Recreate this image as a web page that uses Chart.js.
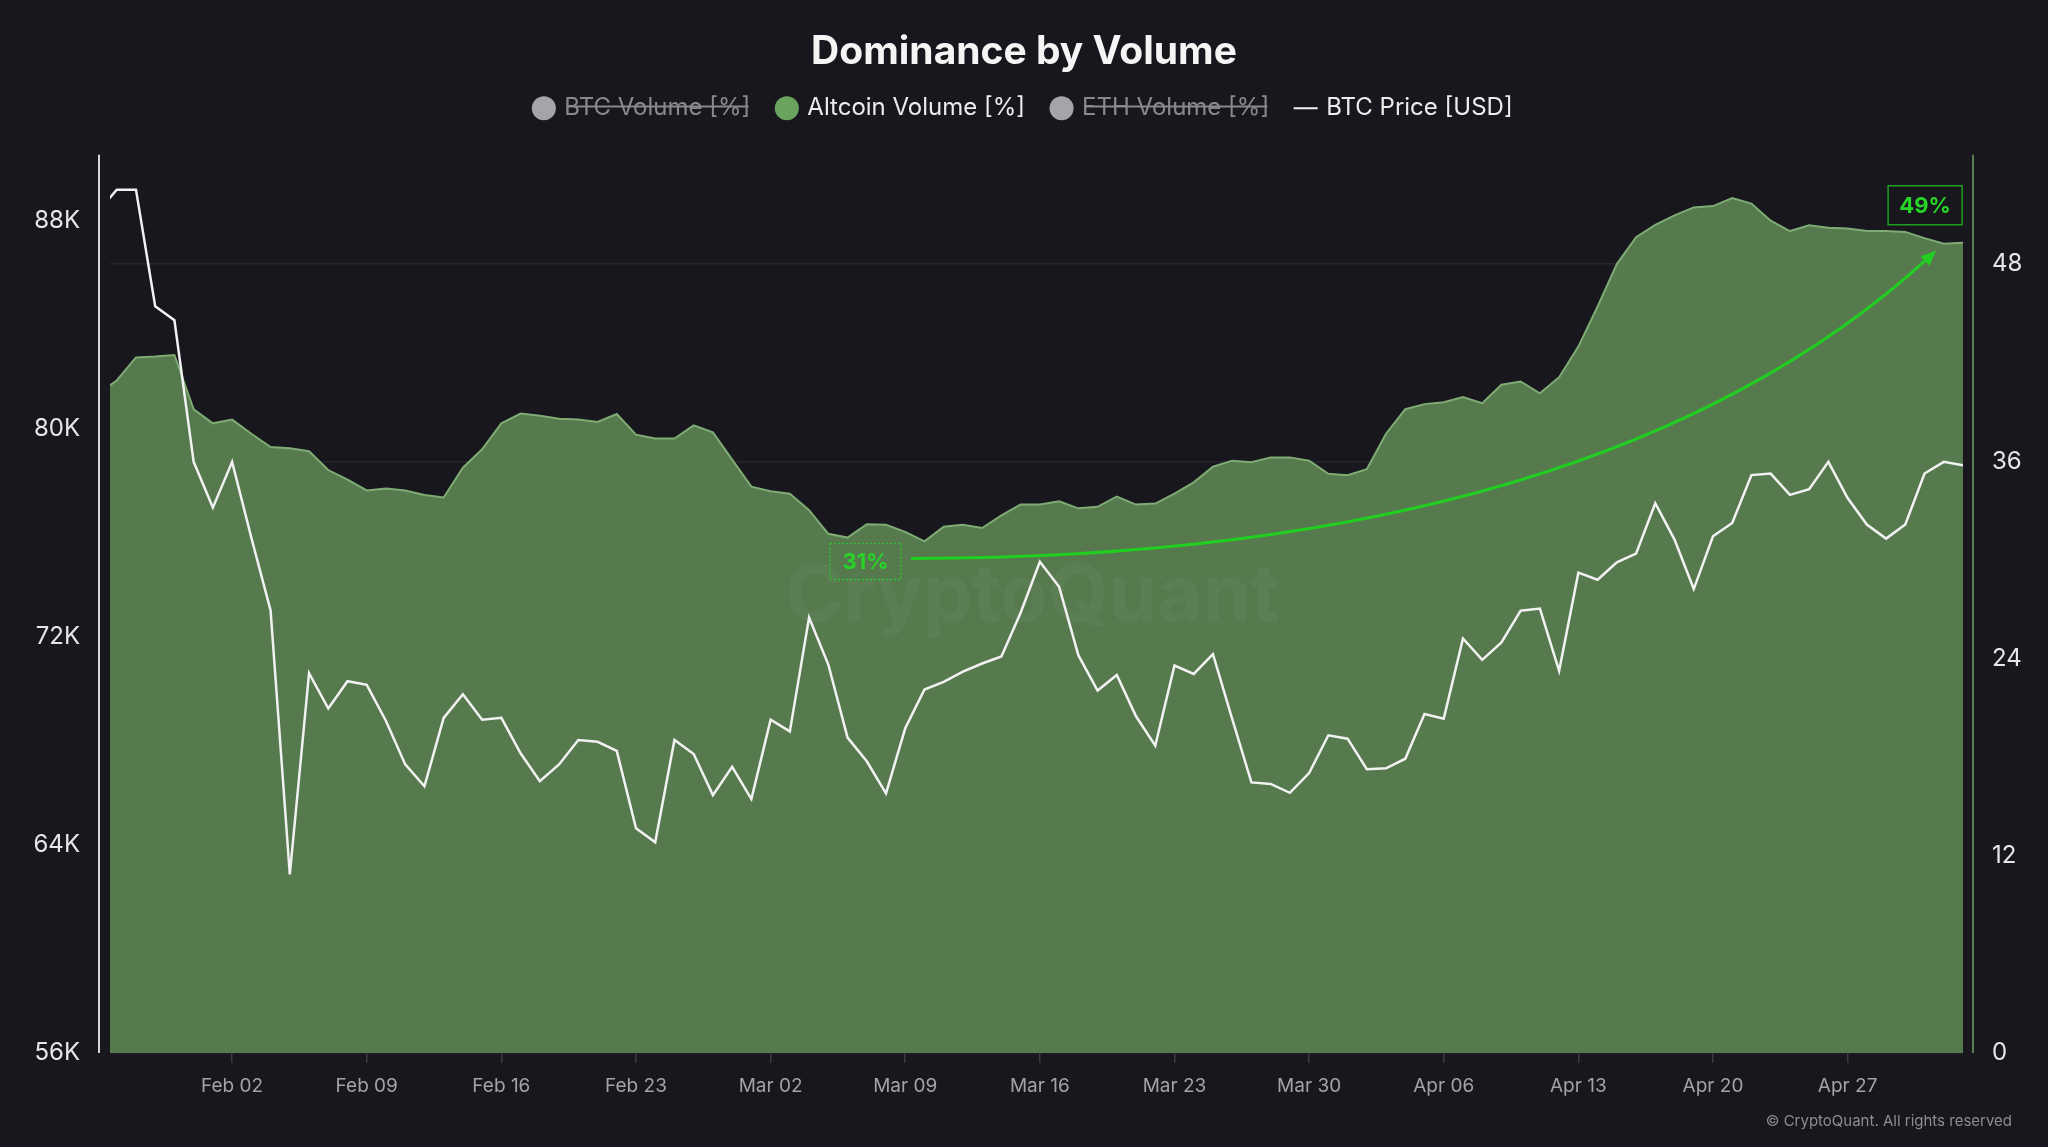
<!DOCTYPE html>
<html>
<head>
<meta charset="utf-8">
<title>Dominance by Volume</title>
<script src="https://cdn.jsdelivr.net/npm/chart.js@4.4.1/dist/chart.umd.min.js"></script>
<style>
  html, body { margin: 0; padding: 0; background: #17171d; }
  #wrap { width: 2048px; height: 1147px; position: relative; }
</style>
</head>
<body>
<div id="wrap"><canvas id="chart"></canvas></div>
<script>
// ---------------- DATA ----------------
const firstDay = { year: 2026, month: 0, day: 26 };   // Jan 26 (first, partly clipped point)

const altcoinVolume = [
  40.1, 40.92, 42.32, 42.38, 42.47, 39.17, 38.31, 38.54, 37.68, 36.87,
  36.79, 36.61, 35.47, 34.89, 34.23, 34.35, 34.23, 33.95, 33.80, 35.61,
  36.73, 38.31, 38.91, 38.77, 38.59, 38.55, 38.40, 38.88, 37.62, 37.39,
  37.39, 38.19, 37.76, 36.10, 34.46, 34.18, 34.03, 33.03, 31.59, 31.36,
  32.17, 32.14, 31.71, 31.13, 32.02, 32.14, 31.94, 32.71, 33.37, 33.37,
  33.57, 33.14, 33.23, 33.86, 33.37, 33.43, 34.03, 34.72, 35.67, 36.04,
  35.95, 36.24, 36.24, 36.04, 35.24, 35.15, 35.52, 37.68, 39.17, 39.48,
  39.60, 39.91, 39.54, 40.66, 40.86, 40.14, 41.12, 42.98, 45.42, 48.00,
  49.64, 50.39, 50.96, 51.45, 51.53, 52.02, 51.68, 50.64, 50.01, 50.36,
  50.21, 50.16, 50.01, 50.01, 49.96, 49.58, 49.24, 49.30
];

const btcPrice = [
  88300, 89180, 89180, 84700, 84160, 78720, 76960, 78720, 75800, 73010,
  62860, 70600, 69240, 70290, 70150, 68760, 67090, 66250, 68880, 69790,
  68810, 68880, 67520, 66450, 67090, 68030, 67960, 67610, 64640, 64100,
  68030, 67490, 65910, 67000, 65760, 68810, 68360, 72740, 70930, 68120,
  67210, 65980, 68480, 69970, 70260, 70660, 70970, 71240, 72920, 74880,
  73920, 71290, 69930, 70530, 68940, 67810, 70890, 70570, 71330, 68840,
  66400, 66340, 66000, 66760, 68210, 68080, 66910, 66940, 67310, 69030,
  68850, 71930, 71110, 71780, 73000, 73080, 70690, 74460, 74190, 74860,
  75190, 77130, 75730, 73830, 75860, 76370, 78210, 78270, 77450, 77670,
  78720, 77330, 76310, 75770, 76310, 78270, 78720, 78590
];

// hidden series (shown struck through in the legend)
const btcVolume = [];
const ethVolume = [];

const xTickLabels = ['Feb 02', 'Feb 09', 'Feb 16', 'Feb 23', 'Mar 02', 'Mar 09',
                     'Mar 16', 'Mar 23', 'Mar 30', 'Apr 06', 'Apr 13', 'Apr 20', 'Apr 27'];
const priceTicks = [56000, 64000, 72000, 80000, 88000];
const volumeTicks = [0, 12, 24, 36, 48];

// annotations (in data units: day index, altcoin %)
const callouts = [
  { text: '31%', x: 39.94, y: 29.9, dashed: true },
  { text: '49%', x: 95.03, y: 51.58, dashed: false }
];
const trendArrow = { from: [42.36, 30.09], via: [78.2, 30.09], to: [95.6, 48.81] };

// ---------------- HELPERS ----------------
const MONTHS = ['Jan','Feb','Mar','Apr','May','Jun','Jul','Aug','Sep','Oct','Nov','Dec'];
const dates = btcPrice.map((_, i) => {
  const d = new Date(Date.UTC(firstDay.year, firstDay.month, firstDay.day + i));
  return MONTHS[d.getUTCMonth()] + ' ' + String(d.getUTCDate()).padStart(2, '0');
});
const tickIndex = xTickLabels.map(l => dates.indexOf(l));
const toXY = arr => arr.map((v, i) => ({ x: i, y: v }));

const FONT = 'Inter';
const CHART_TOP = 154, TITLE_H = 67.4;

// ---------------- PLUGINS ----------------
const legendHeightFix = {
  id: 'legendHeightFix',
  beforeLayout(chart) {
    const lg = chart.legend;
    if (lg && !lg._hfix) {
      const orig = lg.fit.bind(lg);
      lg.fit = function () { orig(); this.height = CHART_TOP - TITLE_H; };
      lg._hfix = true;
    }
  }
};

const decor = {
  id: 'decor',
  beforeDraw(chart) {
    const { ctx } = chart;
    ctx.save();
    ctx.fillStyle = '#17171d';
    ctx.fillRect(0, 0, chart.width, chart.height);
    ctx.restore();
  },
  afterDatasetsDraw(chart) {
    const { ctx, chartArea: ca, scales } = chart;
    const xs = scales.x, ys = scales.y1;

    // watermark
    ctx.save();
    ctx.font = 'bold 78px ' + FONT;
    ctx.fillStyle = 'rgba(255,255,255,0.035)';
    ctx.textAlign = 'center';
    ctx.textBaseline = 'middle';
    ctx.fillText('CryptoQuant', (ca.left + ca.right) / 2 - 4, 598);
    ctx.restore();

    // trend arrow
    const p0 = [xs.getPixelForValue(trendArrow.from[0]), ys.getPixelForValue(trendArrow.from[1])];
    const p1 = [xs.getPixelForValue(trendArrow.via[0]), ys.getPixelForValue(trendArrow.via[1])];
    const p2 = [xs.getPixelForValue(trendArrow.to[0]), ys.getPixelForValue(trendArrow.to[1])];
    let dx = p2[0] - p1[0], dy = p2[1] - p1[1];
    const len = Math.hypot(dx, dy); dx /= len; dy /= len;
    ctx.save();
    ctx.strokeStyle = '#21cf21';
    ctx.lineWidth = 3;
    ctx.lineCap = 'round';
    ctx.beginPath();
    ctx.moveTo(p0[0], p0[1]);
    ctx.quadraticCurveTo(p1[0], p1[1], p2[0] - dx * 8, p2[1] - dy * 8);
    ctx.stroke();
    const bx = p2[0] - dx * 15, by = p2[1] - dy * 15;
    ctx.fillStyle = '#21cf21';
    ctx.beginPath();
    ctx.moveTo(p2[0], p2[1]);
    ctx.lineTo(bx - dy * 6.5, by + dx * 6.5);
    ctx.lineTo(bx + dy * 6.5, by - dx * 6.5);
    ctx.closePath();
    ctx.fill();
    ctx.restore();

    // callout boxes
    callouts.forEach(c => {
      const cx = xs.getPixelForValue(c.x), cy = ys.getPixelForValue(c.y);
      const bw = c.dashed ? 71 : 74, bh = c.dashed ? 36 : 39;
      ctx.save();
      ctx.strokeStyle = c.dashed ? '#2fbf2f' : '#1f9e1f';
      ctx.lineWidth = 1.5;
      if (c.dashed) ctx.setLineDash([2, 2]);
      ctx.strokeRect(cx - bw / 2, cy - bh / 2, bw, bh);
      ctx.setLineDash([]);
      ctx.font = 'bold 22px ' + FONT;
      ctx.fillStyle = '#27d427';
      ctx.textAlign = 'center';
      ctx.textBaseline = 'middle';
      ctx.fillText(c.text, cx, cy + 1);
      ctx.restore();
    });

    // offset axis lines
    ctx.save();
    ctx.lineWidth = 2;
    ctx.strokeStyle = '#d6d6d6';
    ctx.beginPath();
    ctx.moveTo(ca.left - 11, ca.top);
    ctx.lineTo(ca.left - 11, ca.bottom);
    ctx.stroke();
    ctx.strokeStyle = '#5b7d55';
    ctx.beginPath();
    ctx.moveTo(ca.right + 10, ca.top);
    ctx.lineTo(ca.right + 10, ca.bottom);
    ctx.stroke();
    ctx.restore();
  },
  afterDraw(chart) {
    const { ctx } = chart;
    ctx.save();
    ctx.font = '15px ' + FONT;
    ctx.fillStyle = '#8c8c92';
    ctx.textAlign = 'right';
    ctx.textBaseline = 'middle';
    ctx.fillText('\u00A9 CryptoQuant. All rights reserved', 2012, 1121);
    ctx.restore();
  }
};

// ---------------- CHART ----------------
const legendStyle = [
  { point: 'circle', fill: '#a4a4aa', stroke: '#a4a4aa', lw: 0 },
  { point: 'circle', fill: '#6aa35e', stroke: '#6aa35e', lw: 0 },
  { point: 'circle', fill: '#a4a4aa', stroke: '#a4a4aa', lw: 0 },
  { point: 'line',   fill: '#f2f2f2', stroke: '#f2f2f2', lw: 2 }
];

new Chart(document.getElementById('chart'), {
  type: 'line',
  data: {
    datasets: [
      { label: 'BTC Volume [%]', data: toXY(btcVolume), hidden: true, yAxisID: 'y1',
        borderColor: '#a4a4aa', backgroundColor: '#a4a4aa', pointRadius: 0, order: 2 },
      { label: 'Altcoin Volume [%]', data: toXY(altcoinVolume), yAxisID: 'y1',
        fill: 'origin', backgroundColor: '#567a4e', borderColor: '#7fab74', borderWidth: 2,
        pointRadius: 0, tension: 0, order: 1 },
      { label: 'ETH Volume [%]', data: toXY(ethVolume), hidden: true, yAxisID: 'y1',
        borderColor: '#a4a4aa', backgroundColor: '#a4a4aa', pointRadius: 0, order: 2 },
      { label: 'BTC Price [USD]', data: toXY(btcPrice), yAxisID: 'y',
        fill: false, borderColor: '#f2f2f2', borderWidth: 2.5, pointRadius: 0, tension: 0, order: 0 }
    ]
  },
  options: {
    responsive: true,
    maintainAspectRatio: false,
    devicePixelRatio: 1,
    animation: false,
    layout: { padding: 0 },
    interaction: { mode: 'index', intersect: false },
    plugins: {
      tooltip: { enabled: false },
      title: {
        display: true,
        text: 'Dominance by Volume',
        color: '#f5f5f5',
        font: { family: FONT, size: 39, weight: 'bold', lineHeight: 0.8 },
        padding: { top: 37, bottom: 0 }
      },
      legend: {
        position: 'top',
        labels: {
          usePointStyle: true,
          boxWidth: 17,
          boxHeight: 17,
          padding: 28,
          color: '#ececec',
          font: { family: FONT, size: 24 },
          generateLabels(chart) {
            return chart.data.datasets.map((ds, i) => {
              const vis = chart.isDatasetVisible(i);
              const st = legendStyle[i];
              return {
                text: ds.label,
                fillStyle: st.fill,
                strokeStyle: st.stroke,
                lineWidth: st.lw,
                pointStyle: st.point,
                hidden: !vis,
                fontColor: vis ? '#ececec' : '#88888e',
                datasetIndex: i
              };
            });
          }
        }
      }
    },
    scales: {
      x: {
        type: 'linear',
        min: 0.65,
        max: dates.length - 1,
        afterBuildTicks: s => { s.ticks = tickIndex.map(v => ({ value: v })); },
        afterFit: s => { s.height = 94; },
        ticks: {
          callback: v => dates[v],
          color: '#a2a2a8',
          font: { family: FONT, size: 19 },
          padding: 12,
          maxRotation: 0,
          autoSkip: false
        },
        grid: { drawOnChartArea: false, drawTicks: true, tickLength: 10, color: '#3a3a42', lineWidth: 1.5 },
        border: { display: false }
      },
      y: {
        position: 'left',
        min: 56000,
        max: 90520,
        afterBuildTicks: s => { s.ticks = priceTicks.map(v => ({ value: v })); },
        afterFit: s => { s.width = 110; },
        ticks: {
          callback: v => (v / 1000) + 'K',
          color: '#e6e6e6',
          font: { family: FONT, size: 24 },
          padding: 30
        },
        grid: { display: false, drawTicks: false },
        border: { display: false }
      },
      y1: {
        position: 'right',
        min: 0,
        max: 54.65,
        afterBuildTicks: s => { s.ticks = volumeTicks.map(v => ({ value: v })); },
        afterFit: s => { s.width = 85; },
        ticks: {
          color: '#e6e6e6',
          font: { family: FONT, size: 24 },
          padding: 29
        },
        grid: { color: '#26262d', lineWidth: 1.5, drawTicks: false },
        border: { display: false }
      }
    }
  },
  plugins: [legendHeightFix, decor]
});
</script>
</body>
</html>
